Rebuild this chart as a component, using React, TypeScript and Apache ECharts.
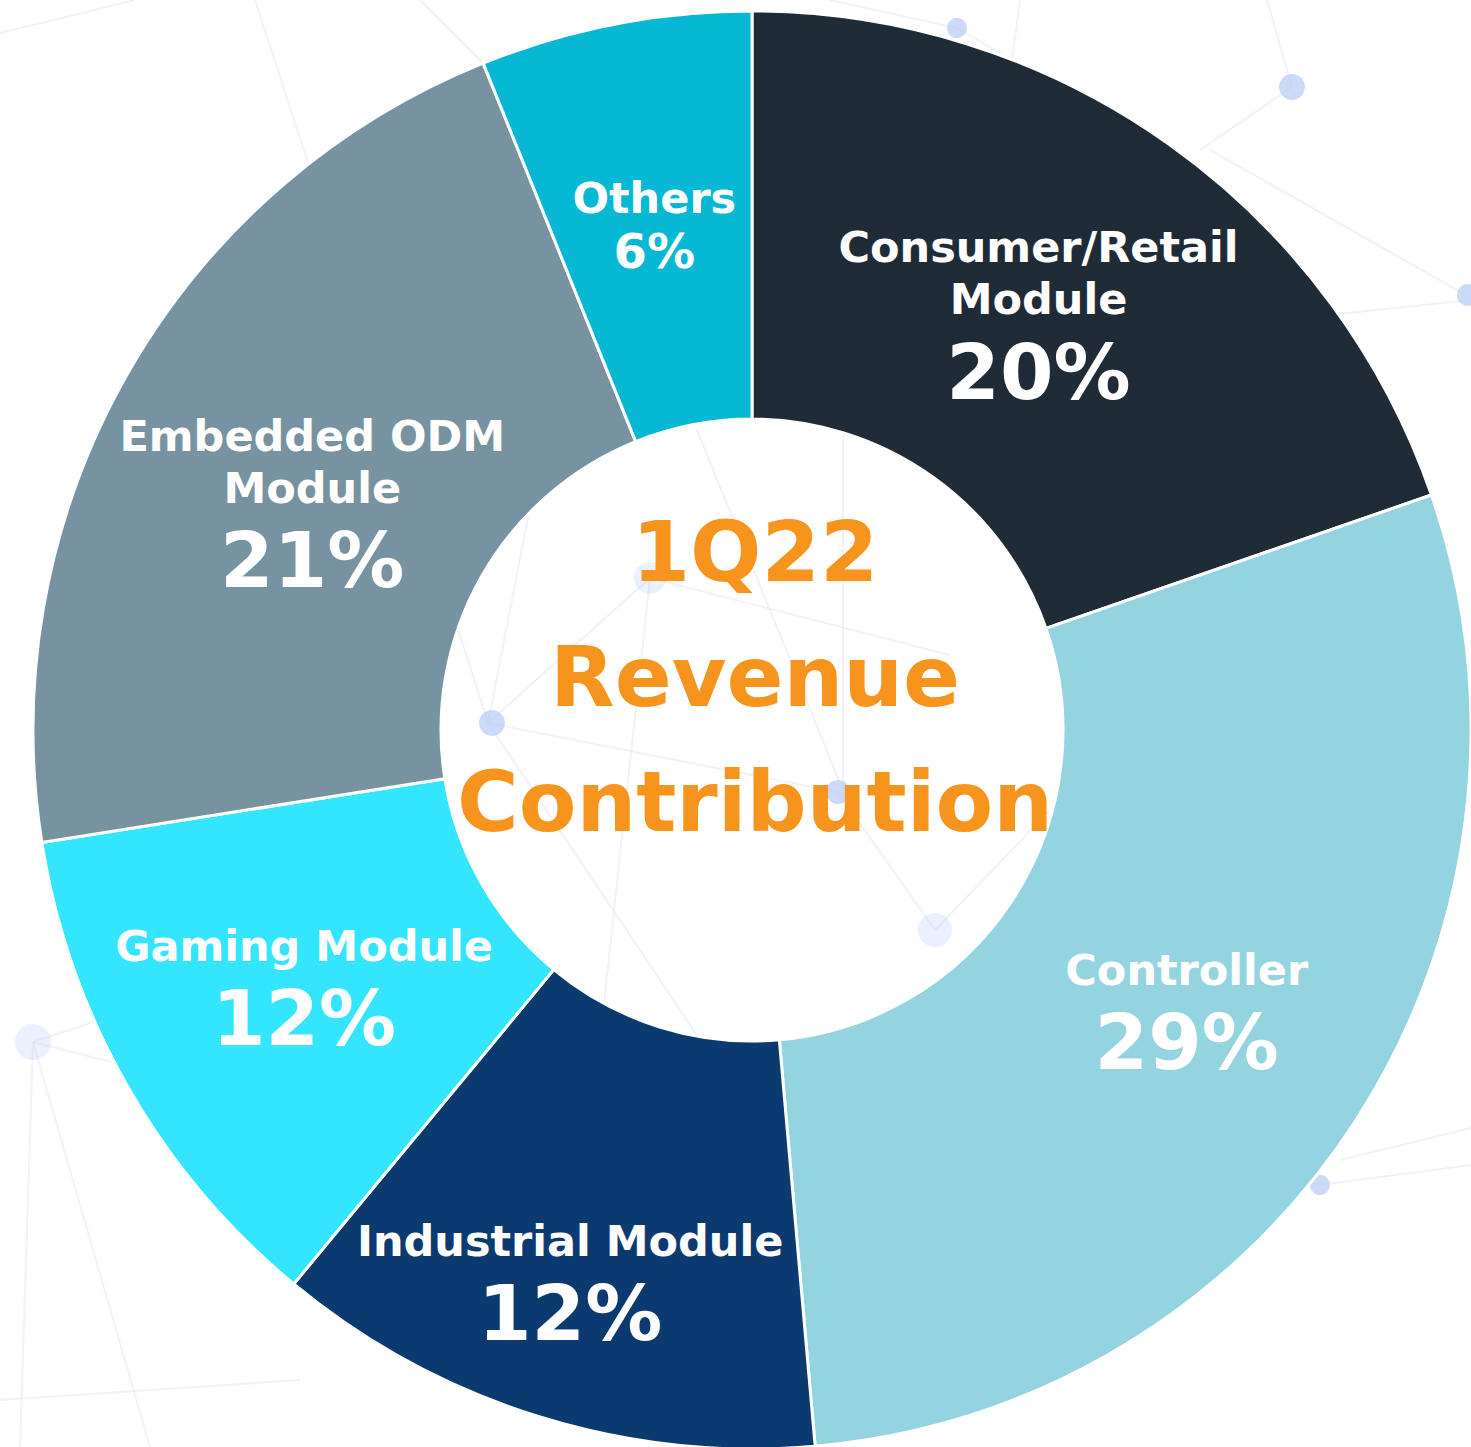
import React, { useEffect, useRef } from "react";
import * as echarts from "echarts";

// ---- data ----
const categories = [
  "Consumer/Retail\nModule",
  "Controller",
  "Industrial Module",
  "Gaming Module",
  "Embedded ODM\nModule",
  "Others",
];
const values = [19.7, 28.9, 12.4, 11.5, 21.4, 6.1];
const colors = ["#202b38", "#94d4e0", "#0b3a70", "#33e5fe", "#7793a1", "#07b8d5"];
const centerTitle = ["1Q22", "Revenue", "Contribution"];

// label nudges (dx, dy) relative to the default inside position
const labelNudge: [number, number][] = [
  [-14, 12],
  [0, 5],
  [-28, 63],
  [2, 6],
  [11, 34],
  [1, 4],
];

// decorative background network (faint)
const bgLines: [number, number, number, number][] = [
  [0, 33, 135, 0],
  [255, 0, 330, 230],
  [420, 0, 490, 70],
  [830, 0, 957, 28],
  [957, 28, 1020, 65],
  [1020, 0, 1012, 60],
  [1267, 0, 1292, 87],
  [1292, 87, 1200, 150],
  [1210, 150, 1466, 295],
  [1300, 318, 1471, 300],
  [1320, 1185, 1471, 1165],
  [1340, 1160, 1471, 1128],
  [33, 1042, 20, 1447],
  [33, 1042, 150, 1447],
  [33, 1042, 160, 1000],
  [33, 1042, 260, 1100],
  [0, 1400, 300, 1380],
  [488, 723, 545, 430],
  [488, 723, 455, 620],
  [488, 723, 838, 792],
  [488, 723, 650, 578],
  [650, 578, 950, 655],
  [697, 430, 840, 783],
  [843, 430, 843, 790],
  [838, 792, 935, 930],
  [488, 723, 700, 1040],
  [650, 578, 600, 1040],
  [935, 930, 1060, 800],
];
const bgDots: [number, number, number][] = [
  [957, 28, 10],
  [1292, 87, 13],
  [1468, 295, 11],
  [1320, 1185, 10],
  [33, 1042, 18],
  [492, 723, 13],
  [650, 578, 16],
  [838, 792, 12],
  [935, 930, 17],
];

export default function App() {
  const ref = useRef<HTMLDivElement>(null);

  useEffect(() => {
    if (!ref.current) return;
    const chart = echarts.init(ref.current, undefined, { renderer: "svg" });

    const font = '"DejaVu Sans", Verdana, sans-serif';

    const decorations: any[] = [
      ...bgLines.map(([x1, y1, x2, y2]) => ({
        type: "line",
        z: 0,
        silent: true,
        shape: { x1, y1, x2, y2 },
        style: { stroke: "#e6e9f5", lineWidth: 2, opacity: 0.6 },
      })),
      ...bgDots.map(([cx, cy, r]) => ({
        type: "circle",
        z: 0,
        silent: true,
        shape: { cx, cy, r },
        style: { fill: "#b9cdf7", opacity: r > 14 ? 0.3 : 0.75 },
      })),
    ];

    const nameStyle = {
      fontSize: 43,
      lineHeight: 52,
      fontWeight: "bold",
      color: "#ffffff",
      fontFamily: font,
      align: "center",
    };

    chart.setOption({
      animation: false,
      backgroundColor: "#ffffff",
      graphic: {
        elements: [
          ...decorations,
          {
            type: "text",
            z: 100,
            x: 755,
            y: 677,
            style: {
              text: centerTitle.join("\n"),
              fill: "#F7941D",
              font: `bold 84px ${font}`,
              lineHeight: 125,
              textAlign: "center",
              textVerticalAlign: "middle",
            },
          },
        ],
      },
      series: [
        {
          type: "pie",
          center: [752, 730],
          radius: [311, 719],
          startAngle: 90,
          clockwise: true,
          avoidLabelOverlap: false,
          silent: true,
          itemStyle: { borderColor: "#ffffff", borderWidth: 3 },
          label: {
            show: true,
            position: "inside",
            overflow: "none",
            formatter: (p: any) => {
              const nameLines = String(p.name)
                .split("\n")
                .map((s) => `{n|${s}}`)
                .join("\n");
              const pct = `${Math.round(p.value)}%`;
              const style = p.value < 10 ? "ps" : "p";
              return `${nameLines}\n{${style}|${pct}}`;
            },
            rich: {
              n: nameStyle,
              p: { ...nameStyle, fontSize: 77, lineHeight: 94 },
              ps: { ...nameStyle, fontSize: 48, lineHeight: 54 },
            },
          },
          labelLine: { show: false },
          labelLayout: (params: any) => {
            const d = labelNudge[params.dataIndex] || [0, 0];
            return { dx: d[0], dy: d[1] };
          },
          data: categories.map((name, i) => ({
            name,
            value: values[i],
            itemStyle: { color: colors[i] },
          })),
        },
      ],
    });

    return () => chart.dispose();
  }, []);

  return (
    <div
      ref={ref}
      style={{ position: "fixed", left: 0, top: 0, width: 1471, height: 1447 }}
    />
  );
}
